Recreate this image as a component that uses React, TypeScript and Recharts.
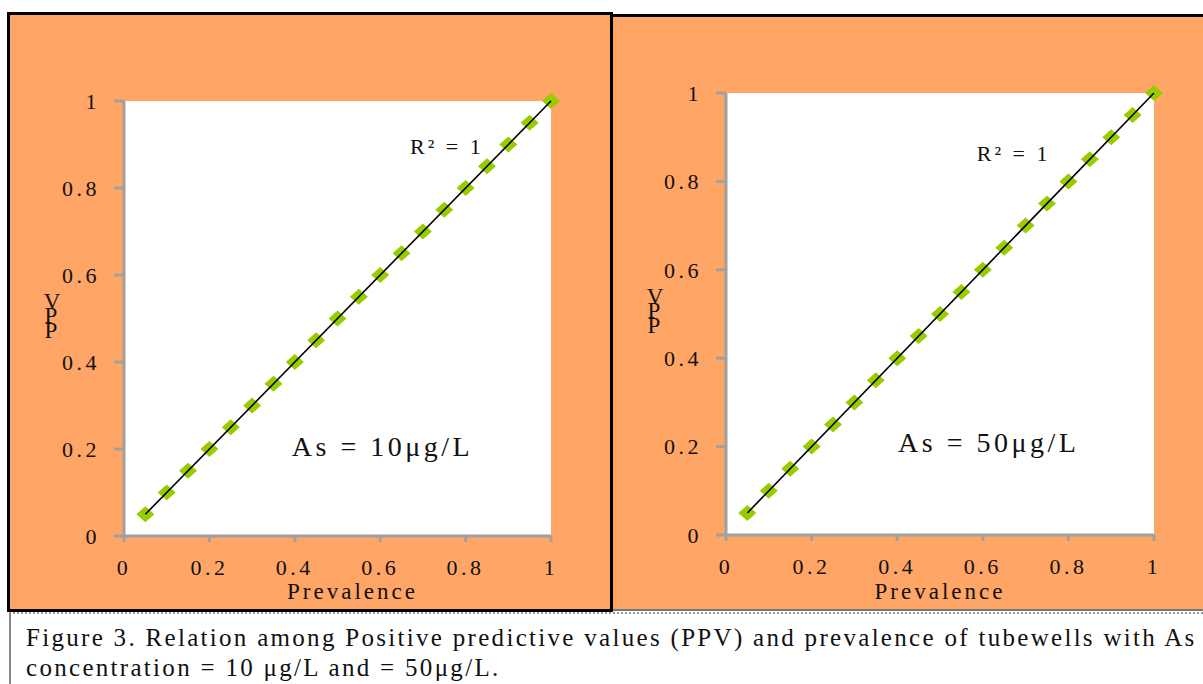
import { ScatterChart, Scatter, XAxis, YAxis, CartesianGrid, ReferenceDot } from 'recharts';

// prevalence of contaminated tubewells (x) and the positive predictive value
const prevalence = [0.05, 0.1, 0.15, 0.2, 0.25, 0.3, 0.35, 0.4, 0.45, 0.5, 0.55, 0.6, 0.65, 0.7, 0.75, 0.8, 0.85, 0.9, 0.95, 1];
const ppvAs10 = [0.05, 0.1, 0.15, 0.2, 0.25, 0.3, 0.35, 0.4, 0.45, 0.5, 0.55, 0.6, 0.65, 0.7, 0.75, 0.8, 0.85, 0.9, 0.95, 1];
const ppvAs50 = [0.05, 0.1, 0.15, 0.2, 0.25, 0.3, 0.35, 0.4, 0.45, 0.5, 0.55, 0.6, 0.65, 0.7, 0.75, 0.8, 0.85, 0.9, 0.95, 1];
const axisTicks = [0, 0.2, 0.4, 0.6, 0.8, 1];

const SERIF = '"Liberation Serif", "Times New Roman", serif';
const ORANGE = '#FFA566';
const GREEN = '#99CC00';
const AXIS_GRAY = '#a0a0a0';

const Diamond = (props: any) => {
  const { cx, cy } = props;
  if (cx == null || cy == null) return <g />;
  return (
    <polygon
      points={`${cx},${cy - 8} ${cx + 9},${cy} ${cx},${cy + 8} ${cx - 9},${cy}`}
      fill={GREEN}
    />
  );
};

const Nothing = () => <g />;

// the reference stacks the letters of "PPV" upright and overlapping
const PpvLabel = (props: any) => {
  const { viewBox } = props;
  const mid = viewBox.y + viewBox.height / 2;
  const x = viewBox.x + 42;
  return (
    <text textAnchor="middle" fill="#111" style={{ fontFamily: SERIF, fontSize: 23 }}>
      <tspan x={x} y={mid - 10}>V</tspan>
      <tspan x={x - 1} y={mid + 4}>P</tspan>
      <tspan x={x - 1} y={mid + 19}>P</tspan>
    </text>
  );
};

interface PanelProps {
  ppv: number[];
  width: number;
  height: number;
  margin: { top: number; right: number; bottom: number; left: number };
  yAxisWidth: number;
  xAxisHeight: number;
  caption: string;
  r2At: [number, number];
  captionAt: [number, number];
  titleDx: number;
}

const Panel = ({ ppv, width, height, margin, yAxisWidth, xAxisHeight, caption, r2At, captionAt, titleDx }: PanelProps) => {
  const data = prevalence.map((x, i) => ({ x, y: ppv[i] }));
  const tickStyle = { fill: '#111', fontSize: 22, fontFamily: SERIF, letterSpacing: 3.5 };
  const line = { stroke: AXIS_GRAY, strokeWidth: 3 };

  return (
    <ScatterChart width={width} height={height} margin={margin}>
      <CartesianGrid fill="#ffffff" horizontal={false} vertical={false} />
      <XAxis
        dataKey="x"
        type="number"
        domain={[0, 1]}
        ticks={axisTicks}
        height={xAxisHeight}
        axisLine={line}
        tickLine={line}
        tickSize={6}
        tickMargin={17}
        tick={tickStyle}
        label={{
          value: 'Prevalence',
          position: 'insideBottom',
          offset: 10,
          dx: titleDx,
          style: { fill: '#111', fontSize: 23, fontFamily: SERIF, letterSpacing: 3 },
        }}
      />
      <XAxis xAxisId="top" orientation="top" type="number" domain={[0, 1]} height={0} tick={false} tickLine={false} axisLine={line} />
      <YAxis
        dataKey="y"
        type="number"
        domain={[0, 1]}
        ticks={axisTicks}
        width={yAxisWidth}
        axisLine={line}
        tickLine={line}
        tickSize={10}
        tickMargin={14}
        tick={tickStyle}
        label={{ content: PpvLabel }}
      />
      <YAxis yAxisId="right" orientation="right" type="number" domain={[0, 1]} width={0} tick={false} tickLine={false} axisLine={line} />
      <Scatter data={data} shape={Diamond} isAnimationActive={false} />
      <Scatter
        data={data}
        shape={Nothing}
        line={{ stroke: '#000', strokeWidth: 1.6 }}
        lineType="fitting"
        isAnimationActive={false}
      />
      <ReferenceDot
        x={r2At[0]}
        y={r2At[1]}
        r={0}
        ifOverflow="visible"
        shape={(p: any) => (
          <text x={p.cx} y={p.cy} fill="#111" style={{ fontFamily: SERIF, fontSize: 22, letterSpacing: 3 }}>
            R² = 1
          </text>
        )}
      />
      <ReferenceDot
        x={captionAt[0]}
        y={captionAt[1]}
        r={0}
        ifOverflow="visible"
        shape={(p: any) => (
          <text x={p.cx} y={p.cy} fill="#111" style={{ fontFamily: SERIF, fontSize: 28, letterSpacing: 3.5 }}>
            {caption}
          </text>
        )}
      />
    </ScatterChart>
  );
};

export default function App() {
  return (
    <div style={{ position: 'absolute', left: 0, top: 0, width: 1203, height: 684, background: '#fff', overflow: 'hidden' }}>
      <div
        style={{
          position: 'absolute',
          left: 613,
          top: 14,
          width: 590,
          height: 597,
          boxSizing: 'border-box',
          background: ORANGE,
          borderTop: '3px solid #000',
          borderBottom: '2px solid #777',
        }}
      >
        <Panel
          ppv={ppvAs50}
          width={590}
          height={592}
          margin={{ top: 76, right: 49, bottom: 0, left: 0 }}
          yAxisWidth={113}
          xAxisHeight={74}
          caption="As = 50μg/L"
          r2At={[0.586, 0.846]}
          captionAt={[0.402, 0.188]}
          titleDx={0}
        />
      </div>
      <div
        style={{
          position: 'absolute',
          left: 7,
          top: 12,
          width: 606,
          height: 600,
          boxSizing: 'border-box',
          background: ORANGE,
          border: '3px solid #000',
        }}
      >
        <Panel
          ppv={ppvAs10}
          width={600}
          height={594}
          margin={{ top: 86, right: 59, bottom: 0, left: 0 }}
          yAxisWidth={114}
          xAxisHeight={73}
          caption="As = 10μg/L"
          r2At={[0.67, 0.879]}
          captionAt={[0.393, 0.184]}
          titleDx={15}
        />
      </div>
      <div
        style={{
          position: 'absolute',
          left: 9,
          top: 612,
          width: 1194,
          height: 72,
          boxSizing: 'border-box',
          borderLeft: '2px solid #888',
          borderTop: '2px dotted #999',
          paddingLeft: 15,
          paddingTop: 9,
          fontFamily: SERIF,
          fontSize: 25,
          lineHeight: '30px',
          letterSpacing: 2.3,
          color: '#111',
          whiteSpace: 'nowrap',
        }}
      >
        Figure 3. Relation among Positive predictive values (PPV) and prevalence of tubewells with As
        <br />
        concentration = 10 μg/L and = 50μg/L.
      </div>
    </div>
  );
}
